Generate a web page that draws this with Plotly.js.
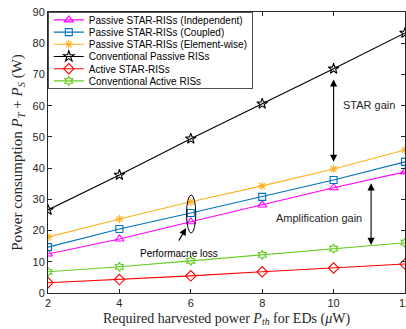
<!DOCTYPE html>
<html><head><meta charset="utf-8">
<script src="https://cdn.plot.ly/plotly-3.0.1.min.js"></script>
<style>html,body{margin:0;padding:0;background:#fff}#chart{width:406px;height:329px}</style>
</head><body><div id="chart"></div>
<script>
const xVals = [2, 4, 6, 8, 10, 12];
const passiveIndependent = [12.5, 17.3, 22.8, 28.2, 33.7, 38.8];
const passiveCoupled = [14.7, 20.5, 25.6, 30.8, 36.2, 42.0];
const passiveElementWise = [17.9, 23.7, 29.2, 34.3, 39.7, 45.8];
const conventionalPassive = [26.6, 37.8, 49.4, 60.6, 71.8, 83.3];
const activeStar = [3.3, 4.3, 5.5, 6.8, 8.0, 9.3];
const conventionalActive = [6.8, 8.4, 10.3, 12.2, 14.2, 16.1];
const names = ['Passive STAR-RISs (Independent)', 'Passive STAR-RISs (Coupled)', 'Passive STAR-RISs (Element-wise)', 'Conventional Passive RISs', 'Active STAR-RISs', 'Conventional Active RISs'];
const xTicks = [2, 4, 6, 8, 10, 12];
const yTicks = [0, 10, 20, 30, 40, 50, 60, 70, 80, 90];

function tr(y, name, color, symbol, size) {
  return {x: xVals, y: y, name: name, type: 'scatter', mode: 'lines+markers',
    line: {color: color, width: 1.1},
    marker: {symbol: symbol, size: size, color: color, line: {color: color, width: 1.1}}};
}
const data = [
  tr(passiveIndependent, names[0], '#FF00FF', 'triangle-up-open', 8),
  tr(passiveCoupled, names[1], '#0072BD', 'square-open', 7),
  tr(passiveElementWise, names[2], '#FDB11F', 'asterisk-open', 7),
  tr(conventionalPassive, names[3], '#000000', 'star-open', 8),
  tr(activeStar, names[4], '#FF0000', 'diamond-open', 8),
  tr(conventionalActive, names[5], '#66CC22', 'hexagram-open', 7)
];
const axCommon = {showgrid: false, zeroline: false, showline: true, linecolor: '#262626', linewidth: 1,
  mirror: 'ticks', ticks: 'inside', ticklen: 4, tickcolor: '#262626', ticklabeloverflow: 'allow',
  tickfont: {family: 'Liberation Sans, Arial', size: 11, color: '#262626'}};
const layout = {
  width: 406, height: 329, margin: {l: 48, r: 1, t: 12, b: 36},
  paper_bgcolor: '#fff', plot_bgcolor: '#fff',
  showlegend: true,
  legend: {x: 0, y: 1, xanchor: 'left', yanchor: 'top', bgcolor: '#fff', bordercolor: '#262626', borderwidth: 0.8,
    font: {family: 'Liberation Sans, Arial', size: 10, color: '#000'}, tracegroupgap: 0, itemwidth: 30},
  xaxis: Object.assign({}, axCommon, {range: [2, 12], tickvals: xTicks,
    title: {text: 'Required harvested power <i>P<sub>th</sub></i> for EDs (<i>μ</i>W)', font: {family: 'Liberation Serif, serif', size: 14, color: '#262626'}, standoff: 4}}),
  yaxis: Object.assign({}, axCommon, {range: [0, 90], tickvals: yTicks,
    title: {text: 'Power consumption <i>P<sub>T</sub></i> + <i>P<sub>S</sub></i> (W)', font: {family: 'Liberation Serif, serif', size: 15, color: '#262626'}, standoff: 6}}),
  shapes: [
    {type: 'circle', xref: 'x', yref: 'y', x0: 5.88, x1: 6.14, y0: 19.2, y1: 31.4, line: {color: '#000', width: 1}}
  ],
  annotations: [
    {x: 10, y: 42, ax: 10, ay: 68.9, xref: 'x', yref: 'y', axref: 'x', ayref: 'y', text: '', showarrow: true, arrowhead: 2, startarrowhead: 2, arrowside: 'end+start', arrowsize: 1.3, arrowwidth: 1.1, arrowcolor: '#000'},
    {x: 11.05, y: 15.4, ax: 11.05, ay: 35.6, xref: 'x', yref: 'y', axref: 'x', ayref: 'y', text: '', showarrow: true, arrowhead: 2, startarrowhead: 2, arrowside: 'end+start', arrowsize: 1.3, arrowwidth: 1.1, arrowcolor: '#000'},
    {x: 5.87, y: 20.8, ax: 5.64, ay: 16.3, xref: 'x', yref: 'y', axref: 'x', ayref: 'y', text: '', showarrow: true, arrowhead: 2, arrowsize: 1.3, arrowwidth: 1.1, arrowcolor: '#000'},
    {x: 10.22, y: 60.3, xref: 'x', yref: 'y', xanchor: 'left', yanchor: 'middle', text: 'STAR gain', showarrow: false, font: {family: 'Liberation Sans, Arial', size: 11, color: '#262626'}},
    {x: 8.33, y: 24, xref: 'x', yref: 'y', xanchor: 'left', yanchor: 'middle', text: 'Amplification gain', showarrow: false, font: {family: 'Liberation Sans, Arial', size: 11, color: '#262626'}},
    {x: 4.52, y: 12.8, xref: 'x', yref: 'y', xanchor: 'left', yanchor: 'middle', text: 'Performacne loss', showarrow: false, font: {family: 'Liberation Sans, Arial', size: 10, color: '#000'}}
  ]
};
Plotly.newPlot('chart', data, layout, {displayModeBar: false, staticPlot: true}).then(function (gd) {
  // compact the legend rows to match the reference spacing
  const leg = gd.querySelector('.legend');
  if (!leg) return;
  const bg = leg.querySelector('rect.bg');
  const items = leg.querySelectorAll('g.traces');
  const svgTop = gd.querySelector('svg.main-svg').getBoundingClientRect().top;
  const bgTop = bg.getBoundingClientRect().top - svgTop;
  const rowGap = 12.2, firstOff = 7.5;
  items.forEach(function (g, i) {
    const t = g.getAttribute('transform') || '';
    const m = t.match(/translate\(\s*([-\d.e]+)[ ,]+([-\d.e]+)\s*\)/);
    const ox = m ? parseFloat(m[1]) : 0, oy = m ? parseFloat(m[2]) : 0;
    const cur = g.getCTM().f;
    const want = bgTop + firstOff + rowGap * i + svgTop * 0;
    g.setAttribute('transform', 'translate(' + ox + ',' + (oy + (want - (cur - 0))) + ')');
  });
  const newH = firstOff * 2 + rowGap * (items.length - 1);
  bg.setAttribute('height', newH);
  leg.querySelectorAll('clipPath rect').forEach(function (r) { r.setAttribute('height', newH); });
});
</script></body></html>
